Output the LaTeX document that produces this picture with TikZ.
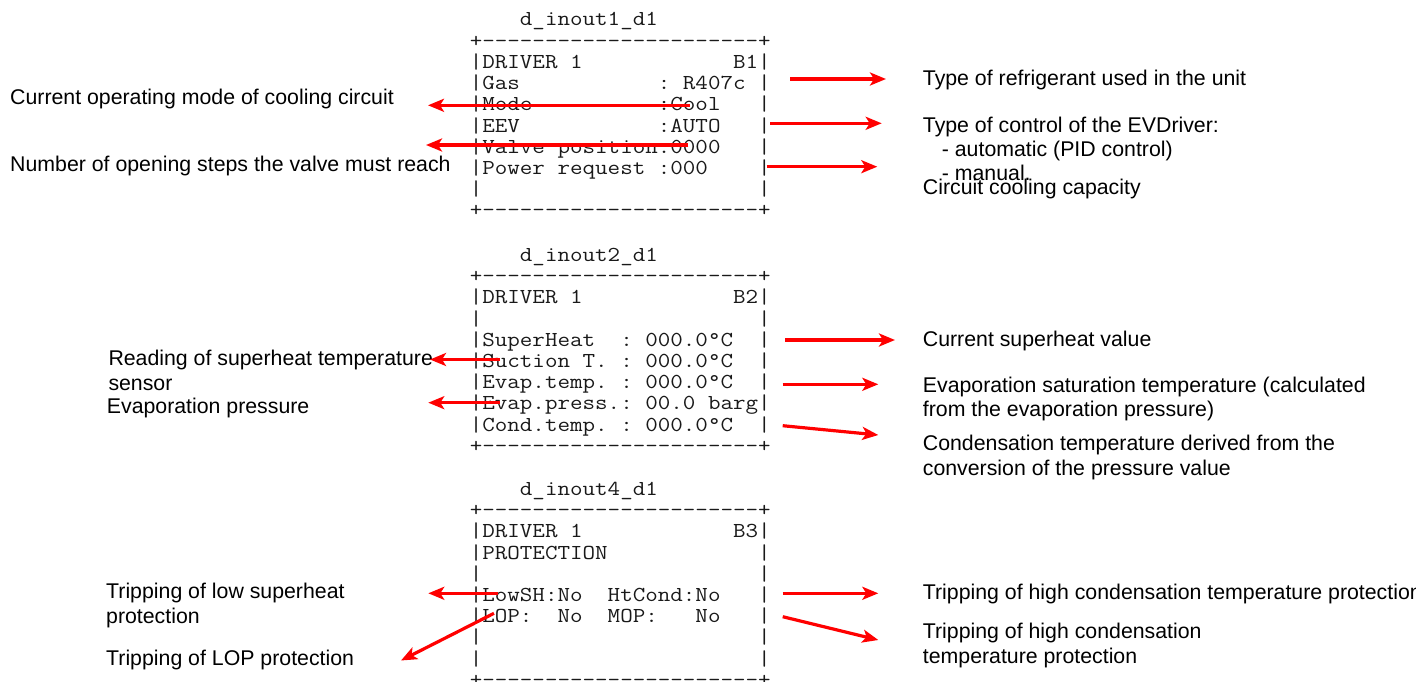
\documentclass[tikz,border=0pt]{standalone}
\usepackage{fontspec}
\usepackage{graphicx}
\setmainfont{Liberation Sans}
\usetikzlibrary{arrows.meta}
\newcommand{\mytt}[1]{\scalebox{1.143}[1]{#1}}
\begin{document}
\begin{tikzpicture}[x=1pt,y=-1pt,
  mono/.style={font=\ttfamily\fontsize{21.3}{21.2}\selectfont, anchor=base west, inner sep=0pt, text=black!90},
  lab/.style={font=\fontsize{21.3}{24.5}\selectfont, anchor=base west, inner sep=0pt, text=black},
  arr/.style={draw=red, line width=3.2pt, -{Stealth[length=16pt,width=13pt,inset=4pt]}}]
\useasboundingbox (0,0) rectangle (1416,682);
% ---------- box 1
\node[mono] (t1) at (469.6,26.0) {\mytt{~~~~d\_inout1\_d1}};
\node[mono] (b1a) at (469.6,47.2) {\mytt{+----------------------+}};
\node[mono] (b1b) at (469.6,68.4) {\mytt{|DRIVER~1~~~~~~~~~~~~B1|}};
\node[mono] (b1c) at (469.6,89.6) {\mytt{|Gas~~~~~~~~~~~:~R407c~|}};
\node[mono] (b1d) at (469.6,110.8) {\mytt{|Mode~~~~~~~~~~:Cool~~~|}};
\node[mono] (b1e) at (469.6,132.0) {\mytt{|EEV~~~~~~~~~~~:AUTO~~~|}};
\node[mono] (b1f) at (469.6,153.2) {\mytt{|Valve~position:0000~~~|}};
\node[mono] (b1g) at (469.6,174.4) {\mytt{|Power~request~:000~~~~|}};
\node[mono] (b1h) at (469.6,195.6) {\mytt{|~~~~~~~~~~~~~~~~~~~~~~|}};
\node[mono] (b1i) at (469.6,216.8) {\mytt{+----------------------+}};
% ---------- box 2
\node[mono] (t2) at (469.6,261.4) {\mytt{~~~~d\_inout2\_d1}};
\node[mono] (b2a) at (469.6,282.6) {\mytt{+----------------------+}};
\node[mono] (b2b) at (469.6,303.8) {\mytt{|DRIVER~1~~~~~~~~~~~~B2|}};
\node[mono] (b2c) at (469.6,325.0) {\mytt{|~~~~~~~~~~~~~~~~~~~~~~|}};
\node[mono] (b2d) at (469.6,346.2) {\mytt{|SuperHeat~~:~000.0°C~~|}};
\node[mono] (b2e) at (469.6,367.4) {\mytt{|Suction~T.~:~000.0°C~~|}};
\node[mono] (b2f) at (469.6,388.6) {\mytt{|Evap.temp.~:~000.0°C~~|}};
\node[mono] (b2g) at (469.6,409.8) {\mytt{|Evap.press.:~00.0~barg|}};
\node[mono] (b2h) at (469.6,431.0) {\mytt{|Cond.temp.~:~000.0°C~~|}};
\node[mono] (b2i) at (469.6,452.2) {\mytt{+----------------------+}};
% ---------- box 3
\node[mono] (t3) at (469.6,495.4) {\mytt{~~~~d\_inout4\_d1}};
\node[mono] (b3a) at (469.6,516.6) {\mytt{+----------------------+}};
\node[mono] (b3b) at (469.6,537.8) {\mytt{|DRIVER~1~~~~~~~~~~~~B3|}};
\node[mono] (b3c) at (469.6,559.0) {\mytt{|PROTECTION~~~~~~~~~~~~|}};
\node[mono] (b3d) at (469.6,580.2) {\mytt{|~~~~~~~~~~~~~~~~~~~~~~|}};
\node[mono] (b3e) at (469.6,601.4) {\mytt{|LowSH:No~~HtCond:No~~~|}};
\node[mono] (b3f) at (469.6,622.6) {\mytt{|LOP:~~No~~MOP:~~~No~~~|}};
\node[mono] (b3g) at (469.6,643.8) {\mytt{|~~~~~~~~~~~~~~~~~~~~~~|}};
\node[mono] (b3h) at (469.6,665.0) {\mytt{|~~~~~~~~~~~~~~~~~~~~~~|}};
\node[mono] (b3i) at (469.6,686.2) {\mytt{+----------------------+}};
% ---------- left labels
\node[lab] (lmode) at (10,105) {Current operating mode of cooling circuit};
\node[lab] (lvalve) at (10,171.7) {Number of opening steps the valve must reach};
\node[lab] (lsuct1) at (108.3,365) {Reading of superheat temperature};
\node[lab] (lsuct2) at (108.3,390) {sensor};
\node[lab] (lpress) at (106.7,413.3) {Evaporation pressure};
\node[lab] (llow1) at (106,598.3) {Tripping of low superheat};
\node[lab] (llow2) at (106,623.3) {protection};
\node[lab] (llop) at (106,665) {Tripping of LOP protection};
% ---------- right labels
\node[lab] (rgas) at (922.7,86) {Type of refrigerant used in the unit};
\node[lab] (reev1) at (922.7,132.7) {Type of control of the EVDriver:};
\node[lab] (reev2) at (941.7,156.7) {- automatic (PID control)};
\node[lab] (reev3) at (941.7,180.7) {- manual.};
\node[lab] (rpow) at (922.7,194) {Circuit cooling capacity};
\node[lab] (rsh) at (922.7,346.7) {Current superheat value};
\node[lab] (revt1) at (922.7,392.7) {Evaporation saturation temperature (calculated};
\node[lab] (revt2) at (922.7,416.7) {from the evaporation pressure)};
\node[lab] (rcond1) at (922.7,450.7) {Condensation temperature derived from the};
\node[lab] (rcond2) at (922.7,475) {conversion of the pressure value};
\node[lab] (rht) at (922.7,599.3) {Tripping of high condensation temperature protection};
\node[lab] (rmop1) at (922.7,638.3) {Tripping of high condensation};
\node[lab] (rmop2) at (922.7,663.3) {temperature protection};
% ---------- arrow end points
\coordinate (sMode) at (690,105.3);   \coordinate (eMode) at (428,105.3);
\coordinate (sValve) at (688.3,145);  \coordinate (eValve) at (426,145);
\coordinate (sGas) at (790,79);       \coordinate (eGas) at (886,79);
\coordinate (sEEV) at (770,123.3);    \coordinate (eEEV) at (881.7,123.3);
\coordinate (sPow) at (766.7,166.7);  \coordinate (ePow) at (877.3,166.7);
\coordinate (sSuct) at (500,359.5);   \coordinate (eSuct) at (430,359.5);
\coordinate (sPress) at (500,402.7);  \coordinate (ePress) at (428.3,402.7);
\coordinate (sSH) at (785,340);       \coordinate (eSH) at (895,340);
\coordinate (sEvT) at (782.7,384.3);  \coordinate (eEvT) at (878.3,384.3);
\coordinate (sCond) at (782.7,425.7); \coordinate (eCond) at (878.3,435);
\coordinate (sLow) at (498.3,593.3);  \coordinate (eLow) at (428.3,593.3);
\coordinate (sLop) at (494,613.3);    \coordinate (eLop) at (401,660.5);
\coordinate (sHt) at (782.7,593.3);   \coordinate (eHt) at (878.3,593.3);
\coordinate (sMop) at (782.7,616.7);  \coordinate (eMop) at (878.3,640);
% ---------- arrows
\draw[arr] (sMode) -- (eMode);
\draw[arr] (sValve) -- (eValve);
\draw[arr] (sGas) -- (eGas);
\draw[arr] (sEEV) -- (eEEV);
\draw[arr] (sPow) -- (ePow);
\draw[arr] (sSuct) -- (eSuct);
\draw[arr] (sPress) -- (ePress);
\draw[arr] (sSH) -- (eSH);
\draw[arr] (sEvT) -- (eEvT);
\draw[arr] (sCond) -- (eCond);
\draw[arr] (sLow) -- (eLow);
\draw[arr] (sLop) -- (eLop);
\draw[arr] (sHt) -- (eHt);
\draw[arr] (sMop) -- (eMop);
\end{tikzpicture}
\end{document}
